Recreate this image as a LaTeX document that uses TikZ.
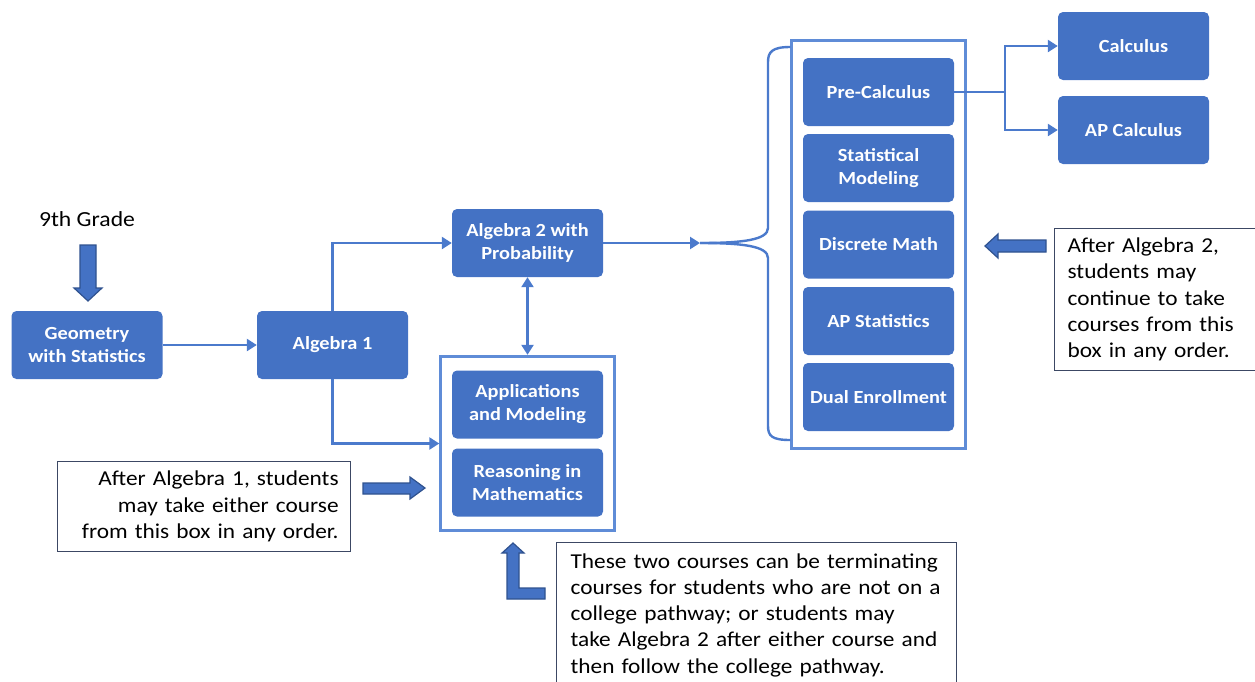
\documentclass[tikz,border=0pt]{standalone}
\usepackage{fontspec}
\setmainfont{Carlito}[FakeStretch=1.1]
\usetikzlibrary{arrows.meta}
\usetikzlibrary{fit}
\definecolor{courseblue}{RGB}{68,114,196}
\definecolor{linkblue}{RGB}{75,122,204}
\definecolor{groupblue}{RGB}{95,140,215}
\definecolor{arrowedge}{RGB}{47,82,143}
\definecolor{noteedge}{RGB}{60,72,100}
\tikzstyle{course}=[fill=courseblue,rounded corners=5pt,minimum width=151pt,minimum height=68pt,inner sep=2pt,text=white,align=center,font=\bfseries\fontsize{18.5}{23}\selectfont]
\tikzstyle{group}=[draw=groupblue,line width=3pt,inner xsep=11pt]
\tikzstyle{link}=[draw=linkblue,line width=2.4pt,-{Triangle[length=10pt,width=12pt]}]
\tikzstyle{brace}=[draw=linkblue,line width=2.4pt]
\tikzstyle{note}=[draw=noteedge,line width=1.2pt,fill=white,font=\fontsize{21.2}{26.3}\selectfont]
\tikzstyle{blockarrow}=[fill=courseblue,draw=arrowedge,line width=1.2pt,line join=miter]

\begin{document}
\begin{tikzpicture}[x=1pt,y=-1pt]
\clip (0,0) rectangle (1255,681);

\node[font=\fontsize{21.5}{24}\selectfont] (grade) at (87,219) {9th Grade};
\draw[blockarrow] (80,245) -- (96,245) -- (96,288) -- (102,288) -- (88,301)
      -- (74,288) -- (80,288) -- cycle;

% courses
\node[course] (geom) at (87,345) {Geometry\\with Statistics};
\node[course] (alg1) at (332.5,345) {Algebra 1};
\node[course] (alg2) at (527.5,243) {Algebra 2 with\\Probability};
\node[course] (apps) at (527.5,404.5) {Applications\\and Modeling};
\node[course] (reason) at (527.5,482.5) {Reasoning in\\Mathematics};
\node[group,inner ysep=14pt,fit=(apps)(reason)] (lowergroup) {};

\node[course] (precalc) at (878.5,92) {Pre-Calculus};
\node[course] (statmod) at (878.5,168) {Statistical\\Modeling};
\node[course] (discrete) at (878.5,244.5) {Discrete Math};
\node[course] (apstat) at (878.5,321) {AP Statistics};
\node[course] (dual) at (878.5,397) {Dual Enrollment};
\node[group,inner ysep=17pt,fit=(precalc)(dual)] (uppergroup) {};

\node[course] (calc) at (1133.5,46) {Calculus};
\node[course] (apcalc) at (1133.5,130) {AP Calculus};

% connectors
\draw[link] (geom) -- (alg1);
\draw[link] (alg1.north) |- (alg2.west);
\draw[link] (alg1.south) |- (lowergroup.west);
\draw[link,{Triangle[length=10pt,width=12pt]}-{Triangle[length=10pt,width=12pt]}] (alg2.south) -- (lowergroup.north);
\coordinate (bracetip) at (700,243);
\draw[link] (alg2.east) -- (bracetip);
\draw[brace] (uppergroup.west |- 0,47) .. controls (772,47) and (768,52) .. (768,62) -- (768,228)
      .. controls (768,240) and (742,243) .. (bracetip);
\draw[brace] (bracetip) .. controls (742,243) and (768,246) .. (768,258) -- (768,426)
      .. controls (768,436) and (772,440) .. (uppergroup.west |- 0,440);

\coordinate (split) at (1005,92);
\draw[brace] (precalc.east) -- (split);
\draw[link] (split) |- (calc.west);
\draw[link] (split) |- (apcalc.west);

% notes
\node[note,anchor=north west,minimum height=142pt,text width=200pt,inner xsep=13pt,align=left] (noteupper) at (1054,228)
  {After Algebra 2,\\students may\\continue to take\\courses from this\\box in any order.};
\draw[blockarrow] (1046,240) -- (1046,252) -- (998,252) -- (998,258) -- (985,246)
      -- (998,234) -- (998,240) -- cycle;

\node[note,anchor=north west,minimum height=90pt,text width=269pt,inner xsep=12pt,align=right] (notelower) at (57,461)
  {After Algebra 1, students\\may take either course\\from this box in any order.};
\draw[blockarrow] (363,483) -- (410,483) -- (410,477) -- (425,488) -- (410,499)
      -- (410,494) -- (363,494) -- cycle;

\node[note,anchor=north west,minimum height=145pt,text width=372pt,inner xsep=14pt,align=left] (noteend) at (556,542)
  {These two courses can be terminating\\courses for students who are not on a\\college pathway; or students may\\take Algebra 2 after either course and\\then follow the college pathway.};
\draw[blockarrow] (513,543) -- (524,553) -- (519,553) -- (519,588) -- (545,588)
      -- (545,599) -- (507,599) -- (507,553) -- (502,553) -- cycle;
\end{tikzpicture}
\end{document}
